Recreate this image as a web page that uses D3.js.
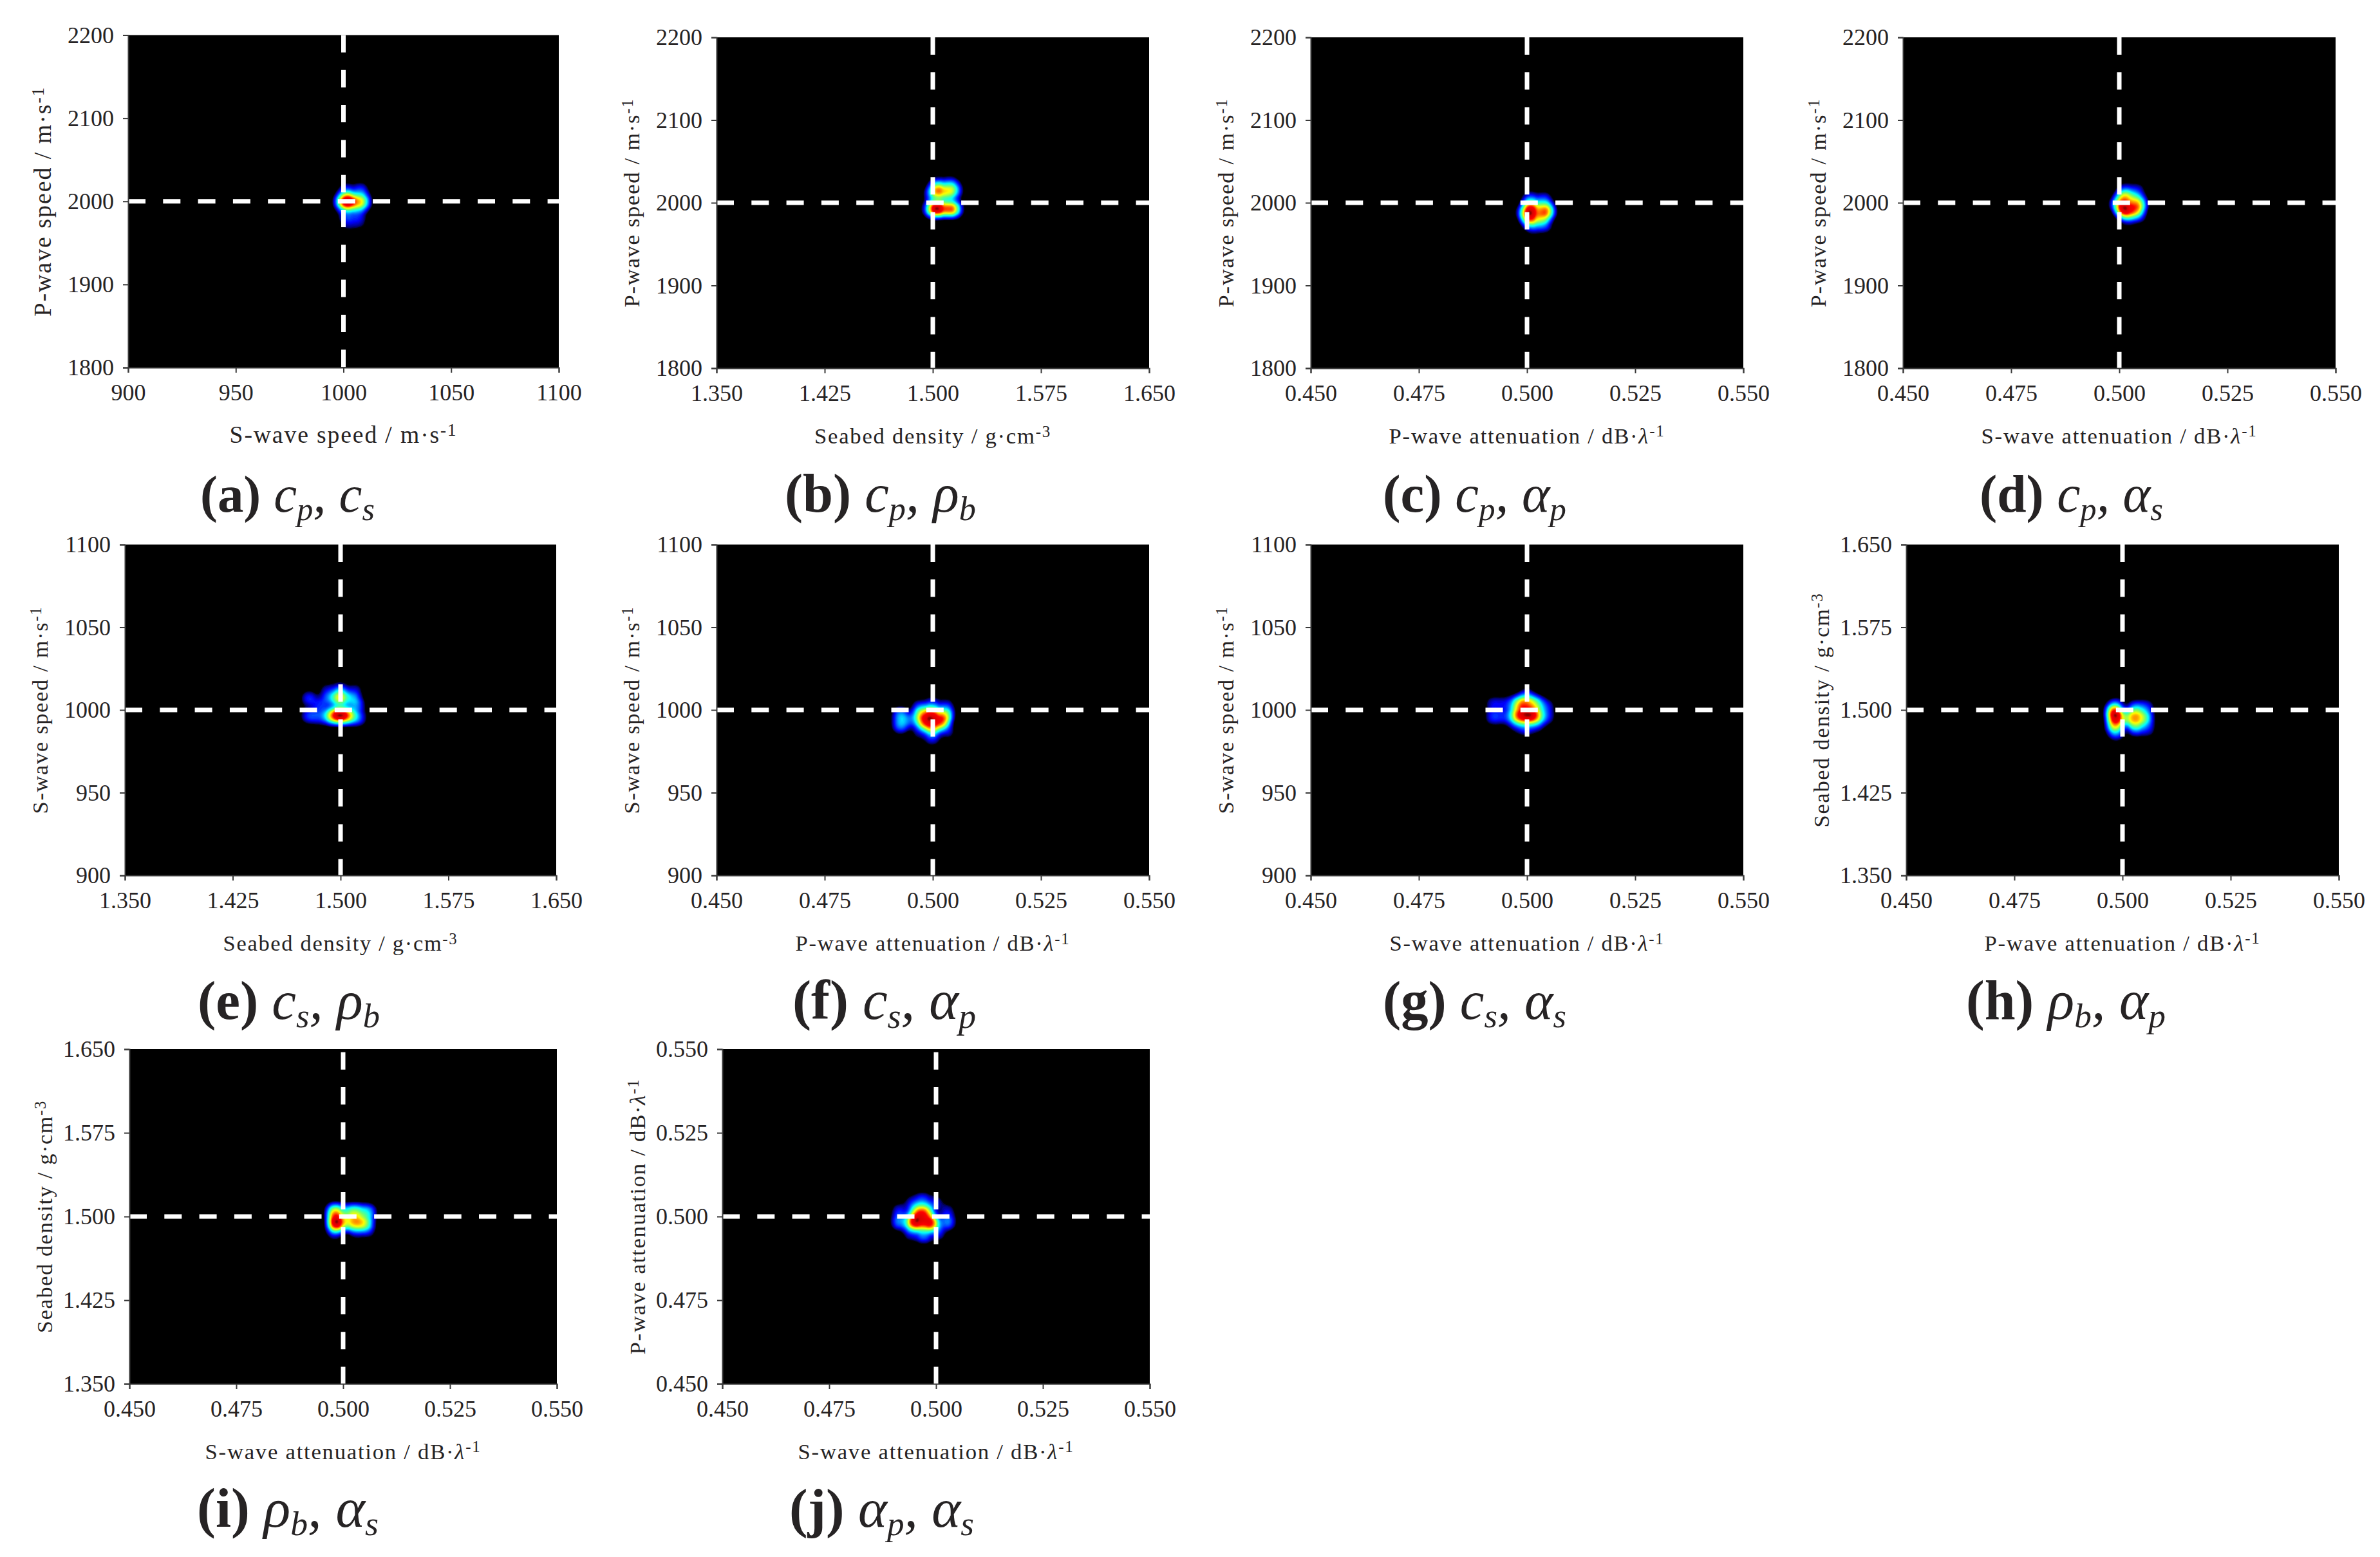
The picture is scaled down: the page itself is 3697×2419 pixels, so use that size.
<!DOCTYPE html>
<html>
<head>
<meta charset="utf-8">
<style>
  html, body { margin: 0; background: #fff; }
  text { font-family: "Liberation Serif", serif; fill: #262324; }
</style>
<script src="https://cdn.jsdelivr.net/npm/d3@7"></script>
</head>
<body>
<svg id="chart" width="3697" height="2419"></svg>
<script>
// -- Axis values --------------------------------------------
const cpTicks = [1800, 1900, 2000, 2100, 2200];
const csTicks = [900, 950, 1000, 1050, 1100];
const rhoTicks = [1.35, 1.425, 1.5, 1.575, 1.65];
const attenTicks = [0.45, 0.475, 0.5, 0.525, 0.55];

const panelLetters = ["a", "b", "c", "d", "e", "f", "g", "h", "i", "j"];
const panelX = ["cs", "rho", "ap", "as", "rho", "ap", "as", "ap", "as", "as"];
const panelY = ["cp", "cp", "cp", "cp", "cs", "cs", "cs", "rho", "rho", "ap"];

// -- True values (dashed cross) -----------------------------
const trueValues = { cp: 2000, cs: 1000, rho: 1.5, ap: 0.5, as: 0.5 };

// -- Density lobes: [x, y, weight] ----
const peaksA = [[1001.1, 1999.5, 0.7], [1003.1, 1999.5, 0.7], [1007.4, 1999, 0.6], [998.9, 1999.5, 0.3], [1009.7, 1999.5, 0.25],
  [1001.4, 2011.2, 0.3], [1007.9, 2012.5, 0.25], [1001.4, 1985.2, 0.25], [1006.9, 1986.5, 0.2], [1001.9, 1973.5, 0.12], [1007.1, 1974.8, 0.12]];
const peaksB = [[1.50328, 1993, 1], [1.51147, 1992.5, 0.62], [1.49851, 1992.5, 0.3], [1.50328, 2013.2, 0.62],
  [1.51073, 2011.9, 0.42], [1.50328, 2021.8, 0.2], [1.51222, 2021.8, 0.22], [1.49806, 2010.6, 0.12], [1.5155, 2014.5, 0.2], [1.5155, 1992.5, 0.3]];
const peaksC = [[0.50095, 1992.7, 1], [0.5007, 1981.6, 0.85], [0.50393, 1991.2, 0.62], [0.50344, 1981.6, 0.45],
  [0.5007, 2004.2, 0.25], [0.50393, 2003.1, 0.25], [0.5012, 1971.2, 0.2], [0.50393, 1972.5, 0.2], [0.49945, 1988.1, 0.35], [0.50493, 1989.4, 0.35]];
const peaksD = [[0.50115, 1992, 1], [0.50364, 1992, 0.58], [0.50115, 2006.2, 0.6], [0.50354, 2004.2, 0.36],
  [0.50139, 2016.1, 0.12], [0.50413, 2015.3, 0.12], [0.50189, 1982.4, 0.2], [0.50438, 1984.2, 0.15], [0.49965, 1998.4, 0.3], [0.50488, 1998.4, 0.3]];
const peaksE = [[1.4997, 996.8, 1], [1.49374, 996.5, 0.6], [1.50566, 996.5, 0.6], [1.4997, 1006.9, 0.62],
  [1.4997, 1012.1, 0.2], [1.49225, 1006.9, 0.22], [1.5079, 1006.9, 0.25], [1.49076, 1012.1, 0.1], [1.51013, 1012.1, 0.1],
  [1.4781, 1006.9, 0.18], [1.4781, 996.5, 0.2], [1.48555, 995.9, 0.18], [1.48555, 1003, 0.15], [1.51237, 995.2, 0.22], [1.51162, 1003, 0.2]];
const peaksF = [[0.49985, 996.5, 1], [0.49786, 992.6, 0.72], [0.50209, 992.6, 0.72], [0.49985, 990, 0.7],
  [0.49736, 997.8, 0.55], [0.50284, 997.1, 0.55], [0.49985, 1002.6, 0.25], [0.49985, 983.5, 0.2], [0.49686, 986.1, 0.1],
  [0.50334, 986.8, 0.12], [0.50309, 1002.6, 0.15], [0.49686, 1002.6, 0.12], [0.49253, 997.1, 0.3], [0.49253, 990.7, 0.3], [0.49487, 993.9, 0.2]];
const peaksG = [[0.49995, 996.5, 0.95], [0.49781, 996.5, 0.75], [0.50194, 996.5, 0.75], [0.4997, 1003.6, 0.65],
  [0.49781, 1003.6, 0.5], [0.50194, 1003.6, 0.5], [0.49223, 1003.6, 0.15], [0.49223, 995.8, 0.2], [0.49497, 995.8, 0.18],
  [0.49497, 1003.6, 0.15], [0.50443, 1002.3, 0.17], [0.50443, 995.8, 0.2], [0.4997, 989.6, 0.22], [0.49746, 990.7, 0.12],
  [0.50219, 990.7, 0.15], [0.49995, 1008.8, 0.17]];
const peaksH = [[0.49841, 1.49358, 1], [0.49826, 1.48579, 0.65], [0.49801, 1.49903, 0.62], [0.50299, 1.4926, 0.5],
  [0.501, 1.4926, 0.42], [0.50523, 1.4926, 0.48], [0.50299, 1.50234, 0.2], [0.50548, 1.50234, 0.2], [0.49851, 1.50428, 0.2],
  [0.49851, 1.4784, 0.2], [0.50299, 1.48288, 0.2], [0.50573, 1.48288, 0.18], [0.50299, 1.48677, 0.28], [0.50299, 1.49786, 0.28]];
const peaksI = [[0.49831, 1.49436, 1], [0.49806, 1.50409, 0.6], [0.50304, 1.49436, 0.55], [0.50528, 1.49377, 0.42],
  [0.5008, 1.49436, 0.38], [0.50304, 1.50409, 0.42], [0.50578, 1.50409, 0.3], [0.49806, 1.48599, 0.15],
  [0.50304, 1.48599, 0.1], [0.5058, 1.48599, 0.08], [0.5008, 1.50409, 0.28]];
const peaksJ = [[0.4989, 0.49799, 0.8], [0.49666, 0.49812, 0.6], [0.49467, 0.49831, 0.8], [0.49791, 0.50123, 0.48], [0.49666, 0.50123, 0.28], [0.49542, 0.50123, 0.46],
  [0.49691, 0.5048, 0.2], [0.49442, 0.50415, 0.12], [0.4999, 0.50415, 0.12], [0.49716, 0.49442, 0.25], [0.49417, 0.49507, 0.15], [0.5004, 0.49507, 0.15],
  [0.49143, 0.49831, 0.25], [0.49143, 0.50156, 0.15], [0.50264, 0.49831, 0.25], [0.50264, 0.50156, 0.12]];
const panelPeaks = [peaksA, peaksB, peaksC, peaksD, peaksE, peaksF, peaksG, peaksH, peaksI, peaksJ];

// -- Layout -------------------------------------------------
// [left, right, top, bottom] of every plot area in page pixels
const panelBoxes = [
  [199, 868, 54.5, 571], [1113, 1785, 58, 572], [2036, 2708, 58, 572], [2956, 3628, 58, 572],
  [194, 864, 846, 1360], [1113, 1785, 846, 1360], [2036, 2708, 846, 1360], [2961, 3633, 846, 1360],
  [201, 865, 1630, 2150], [1122, 1786, 1630, 2150]
];
const xLabelWidths = [354, 368, 429, 429, 365, 427, 427, 429, 429, 429];
const yLabelWidths = [358, 325, 325, 325, 323, 323, 323, 365, 362, 429];
const captionLefts = [311, 1219, 2148, 3075, 307, 1231, 2148, 3054, 306, 1226];
const captionWidths = [271, 297, 285, 285, 283, 285, 285, 310, 282, 287];
const captionBaselines = [795, 795, 795, 795, 1583, 1583, 1583, 1583, 2372, 2372];

const DASH = 27;
const BANDWIDTH = 7;

// -- Jet colours, fading to black at zero density -----------
const jet = d3.scaleLinear()
  .domain([0, 0.04, 0.06, 0.12, 0.3, 0.42, 0.55, 0.78, 0.95, 1])
  .range(["#000000", "#000000", "#00006a", "#0000ff", "#00ffff", "#70ff70", "#ffff00", "#ff0000", "#d80000", "#7a0000"]);

const axisTicks = { cp: cpTicks, cs: csTicks, rho: rhoTicks, ap: attenTicks, as: attenTicks };
const axisNames = {
  cp: "P-wave speed / m·s",
  cs: "S-wave speed / m·s",
  rho: "Seabed density / g·cm",
  ap: "P-wave attenuation / dB·",
  as: "S-wave attenuation / dB·"
};
const axisPowers = { cp: "-1", cs: "-1", rho: "-3", ap: "-1", as: "-1" };
const symbolBase = { cp: "c", cs: "c", rho: "ρ", ap: "α", as: "α" };
const symbolSub = { cp: "p", cs: "s", rho: "b", ap: "p", as: "s" };

const svg = d3.select("#chart");
svg.append("rect").attr("width", 3697).attr("height", 2419).attr("fill", "#fff");

function tickFormat(key) {
  return key === "cp" || key === "cs" ? d3.format("d") : d3.format(".3f");
}

// Scale font size so the text fills the width seen in the picture
function fitWidth(sel, target) {
  const w = sel.node().getComputedTextLength();
  const size = parseFloat(sel.attr("font-size"));
  sel.attr("font-size", size * target / w);
}

function axisLabel(parent, key, width) {
  const t = parent.append("text")
    .attr("text-anchor", "middle")
    .attr("font-size", 38)
    .style("letter-spacing", "0.05em")
    .text(axisNames[key]);
  if (key === "ap" || key === "as") t.append("tspan").attr("font-style", "italic").text("λ");
  t.append("tspan").attr("dy", "-0.42em").attr("font-size", "0.72em").text(axisPowers[key]);
  fitWidth(t, width);
  return t;
}

panelLetters.forEach((letter, i) => {
  const [left, right, top, bottom] = panelBoxes[i];
  const xKey = panelX[i];
  const yKey = panelY[i];
  const xTicks = axisTicks[xKey];
  const yTicks = axisTicks[yKey];

  const x = d3.scaleLinear().domain(d3.extent(xTicks)).range([0, right - left]);
  const y = d3.scaleLinear().domain(d3.extent(yTicks)).range([bottom - top, 0]);

  const g = svg.append("g").attr("transform", `translate(${left},${top})`);
  g.append("rect").attr("width", right - left).attr("height", bottom - top).attr("fill", "#000");

  // Density image as stacked filled contours
  const density = d3.contourDensity()
    .x((d) => x(d[0]))
    .y((d) => y(d[1]))
    .weight((d) => d[2])
    .size([right - left, bottom - top])
    .cellSize(2)
    .bandwidth(BANDWIDTH)
    .contours(panelPeaks[i]);
  const levels = d3.range(0.03, 1, 0.0125);
  const path = d3.geoPath();
  g.append("g").selectAll("path")
    .data(levels)
    .join("path")
    .attr("d", (t) => path(density(t * density.max)))
    .attr("fill", (t) => jet(t));

  // Dashed cross at the true values
  const cross = g.append("g")
    .attr("stroke", "#fff")
    .attr("stroke-width", 7)
    .attr("stroke-dasharray", `${DASH} ${DASH + 0.3}`);
  cross.append("line")
    .attr("x1", 0).attr("x2", right - left)
    .attr("y1", y(trueValues[yKey])).attr("y2", y(trueValues[yKey]));
  cross.append("line")
    .attr("x1", x(trueValues[xKey])).attr("x2", x(trueValues[xKey]))
    .attr("y1", 0).attr("y2", bottom - top)
    .attr("stroke-dashoffset", i >= 8 ? 49.5 : 0);

  // Axes
  const xAxis = g.append("g")
    .attr("transform", `translate(0,${bottom - top})`)
    .call(d3.axisBottom(x).tickValues(xTicks).tickFormat(tickFormat(xKey)).tickSizeOuter(0).tickSize(8).tickPadding(17));
  const yAxis = g.append("g")
    .call(d3.axisLeft(y).tickValues(yTicks).tickFormat(tickFormat(yKey)).tickSizeOuter(0).tickSize(8).tickPadding(14));
  [xAxis, yAxis].forEach((a) => {
    a.attr("font-family", null).attr("font-size", null);
    a.selectAll("text").attr("font-size", 36);
    a.selectAll("line, path").attr("stroke", "#3a3a3a").attr("stroke-width", 2);
  });

  // Axis titles
  axisLabel(g, xKey, xLabelWidths[i])
    .attr("x", (right - left) / 2)
    .attr("y", bottom - top + 117);
  axisLabel(g, yKey, yLabelWidths[i])
    .attr("transform", `translate(-120,${(bottom - top) / 2}) rotate(-90)`);

  // Caption such as (a) cp, cs
  const cap = svg.append("text")
    .attr("x", captionLefts[i])
    .attr("y", captionBaselines[i])
    .attr("font-size", 70);
  cap.append("tspan").attr("font-weight", "bold").text(`(${letter}) `);
  const symbol = (key) => {
    cap.append("tspan").attr("font-style", "italic").text(symbolBase[key]);
    cap.append("tspan").attr("font-style", "italic").attr("font-size", "0.62em").attr("dy", "0.25em").text(symbolSub[key]);
  };
  symbol(yKey);
  cap.append("tspan").attr("font-style", "italic").attr("dy", "-0.155em").text(", ");
  symbol(xKey);
  fitWidth(cap, captionWidths[i]);
});
</script>
</body>
</html>
